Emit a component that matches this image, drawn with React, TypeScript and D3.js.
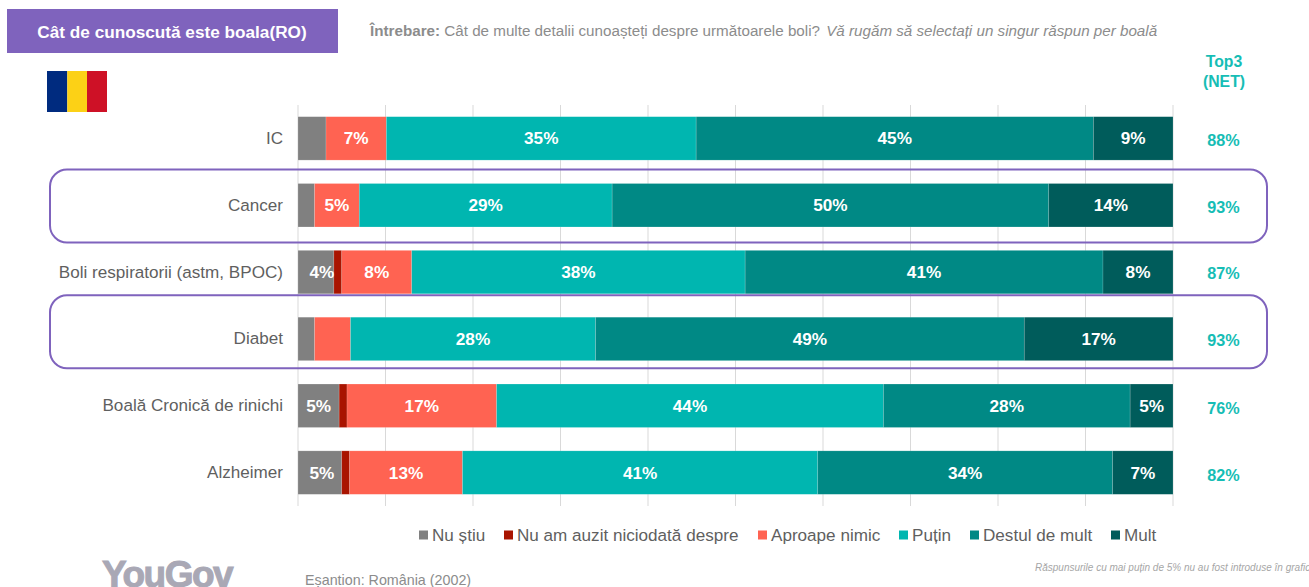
import React from "react";
import * as d3 from "d3";

// Awareness of each disease, share of answers per response level.
const diseases = ["IC", "Cancer", "Boli respiratorii (astm, BPOC)", "Diabet", "Boală Cronică de rinichi", "Alzheimer"];
const responseLevels = ["Nu știu", "Nu am auzit niciodată despre", "Aproape nimic", "Puțin", "Destul de mult", "Mult"];

const nuStiu = [3.2, 1.9, 4.1, 1.9, 4.7, 5.0];
const neverHeard = [0, 0, 0.9, 0, 0.9, 0.9];
const almostNothing = [6.9, 5.1, 8.0, 4.1, 17.1, 12.9];
const aLittle = [35.4, 28.9, 38.1, 28.0, 44.2, 40.6];
const quiteALot = [45.4, 49.9, 40.9, 49.0, 28.2, 33.7];
const aLot = [9.1, 14.2, 8.0, 17.0, 4.9, 6.9];
const seriesValues = [nuStiu, neverHeard, almostNothing, aLittle, quiteALot, aLot];

// Segments that carry a printed percentage, one row of flags per series.
const labelledSegments = [
  [false, false, true, false, true, true],
  [false, false, false, false, false, false],
  [true, true, true, false, true, true],
  [true, true, true, true, true, true],
  [true, true, true, true, true, true],
  [true, true, true, true, true, true],
];

const top3Net = [88, 93, 87, 93, 76, 82];
const gridTicks = d3.range(0, 101, 10);
const highlightedDiseases = ["Cancer", "Diabet"];

const seriesColors = ["#808080", "#A91400", "#FF6352", "#00B6B0", "#008985", "#005C5B"];
const legendSwatchX = [419, 504, 758, 899, 970, 1111];
const outlineLift = [14, 22];
const firstSeriesLabelShift = [0, 0, 6, 0, 0, 2];
const top3Drop = [7.5, 7.5, 6.5, 7.5, 8, 8];

const PURPLE = "#7F63BD";
const TEAL = "#16BDB5";
const TEXT = "#5F5F5F";
const FONT = "'Liberation Sans', Arial, sans-serif";

export default function App() {
  const x = d3.scaleLinear().domain([0, 100]).range([298, 1173]);
  const y = d3.scaleBand().domain(diseases).range([105, 506]).paddingInner(0.35).paddingOuter(0.175);
  const stacked = d3
    .stack<number>()
    .keys(d3.range(responseLevels.length) as any)
    .value((i: number, k: any) => seriesValues[k][i])(d3.range(diseases.length));
  const pct = d3.format(".0f");

  return (
    <svg
      width={1309}
      height={587}
      viewBox="0 0 1309 587"
      style={{ position: "absolute", left: 0, top: 0, display: "block", background: "#fff" }}
      fontFamily={FONT}
    >
      {/* Title badge and question */}
      <rect x={7} y={9} width={331} height={44} fill={PURPLE} />
      <text x={172} y={38} textAnchor="middle" fontSize={17.2} fontWeight={700} fill="#fff">
        Cât de cunoscută este boala(RO)
      </text>
      <text x={370} y={36} fontSize={15.2} fill="#8C8C8C">
        <tspan fontWeight={700}>Întrebare:</tspan>
        <tspan> Cât de multe detalii cunoașteți despre următoarele boli? </tspan>
        <tspan fontStyle="italic" dx={2}>Vă rugăm să selectați un singur răspun per boală</tspan>
      </text>

      {/* Flag */}
      <rect x={47} y={71} width={20.3} height={41} fill="#002B7F" />
      <rect x={67.3} y={71} width={19.7} height={41} fill="#FCD116" />
      <rect x={87} y={71} width={20} height={41} fill="#CE1126" />

      {/* Net column header */}
      <text textAnchor="middle" fontSize={15.8} fontWeight={700} fill={TEAL}>
        <tspan x={1224} y={67}>Top3</tspan>
        <tspan x={1224} y={86.5}>(NET)</tspan>
      </text>

      {/* Vertical gridlines */}
      {gridTicks.map((t) => (
        <line key={t} x1={x(t)} x2={x(t)} y1={105} y2={506} stroke="#D9D9D9" strokeWidth={1} />
      ))}

      {/* Stacked bars */}
      {stacked.map((layer, s) =>
        layer.map((d, i) =>
          d[1] - d[0] > 0 ? (
            <rect
              key={`${s}-${i}`}
              x={x(d[0])}
              y={y(diseases[i])}
              width={x(d[1]) - x(d[0])}
              height={y.bandwidth()}
              fill={seriesColors[s]}
              stroke="#fff"
              strokeOpacity={0.25}
              strokeWidth={0.6}
            />
          ) : null
        )
      )}

      {/* Printed percentages on the segments */}
      {stacked.map((layer, s) =>
        layer.map((d, i) =>
          labelledSegments[s][i] ? (
            <text
              key={`v-${s}-${i}`}
              x={x((d[0] + d[1]) / 2) + (s === 0 ? firstSeriesLabelShift[i] : 0)}
              y={y(diseases[i])! + y.bandwidth() / 2 + 6}
              textAnchor="middle"
              fontSize={17.2}
              fontWeight={700}
              fill="#fff"
            >
              {pct(seriesValues[s][i])}%
            </text>
          ) : null
        )
      )}

      {/* Disease names */}
      {diseases.map((name) => (
        <text
          key={name}
          x={283}
          y={y(name)! + y.bandwidth() / 2 + 5.5}
          textAnchor="end"
          fontSize={17.1}
          fill={TEXT}
        >
          {name}
        </text>
      ))}

      {/* Top3 totals */}
      {diseases.map((name, i) => (
        <text
          key={name}
          x={1223.5}
          y={y(name)! + y.bandwidth() / 2 + top3Drop[i]}
          textAnchor="middle"
          fontSize={16.2}
          fontWeight={700}
          fill={TEAL}
        >
          {top3Net[i]}%
        </text>
      ))}

      {/* Outlines around the highlighted rows */}
      {highlightedDiseases.map((name, i) => (
        <rect
          key={name}
          x={50}
          y={y(name)! - outlineLift[i]}
          width={1217}
          height={73}
          rx={17}
          fill="none"
          stroke={PURPLE}
          strokeWidth={2}
        />
      ))}

      {/* Legend */}
      {responseLevels.map((level, i) => (
        <g key={level}>
          <rect x={legendSwatchX[i]} y={530.5} width={9} height={9} fill={seriesColors[i]} />
          <text x={legendSwatchX[i] + 13} y={541} fontSize={17.1} fill={TEXT}>
            {level}
          </text>
        </g>
      ))}

      {/* Footer */}
      <text
        x={102}
        y={587}
        fontSize={37}
        fontWeight={700}
        fill="#A9A8B5"
        stroke="#A9A8B5"
        strokeWidth={1}
        letterSpacing={-1.5}
      >
        YouGov
      </text>
      <text x={305} y={585} fontSize={14.3} fill="#8C8C8C">
        Eșantion: România (2002)
      </text>
      <text x={1035} y={571} fontSize={10} fontStyle="italic" fill="#A6A6A6">
        Răspunsurile cu mai puțin de 5% nu au fost introduse în grafic
      </text>
    </svg>
  );
}
